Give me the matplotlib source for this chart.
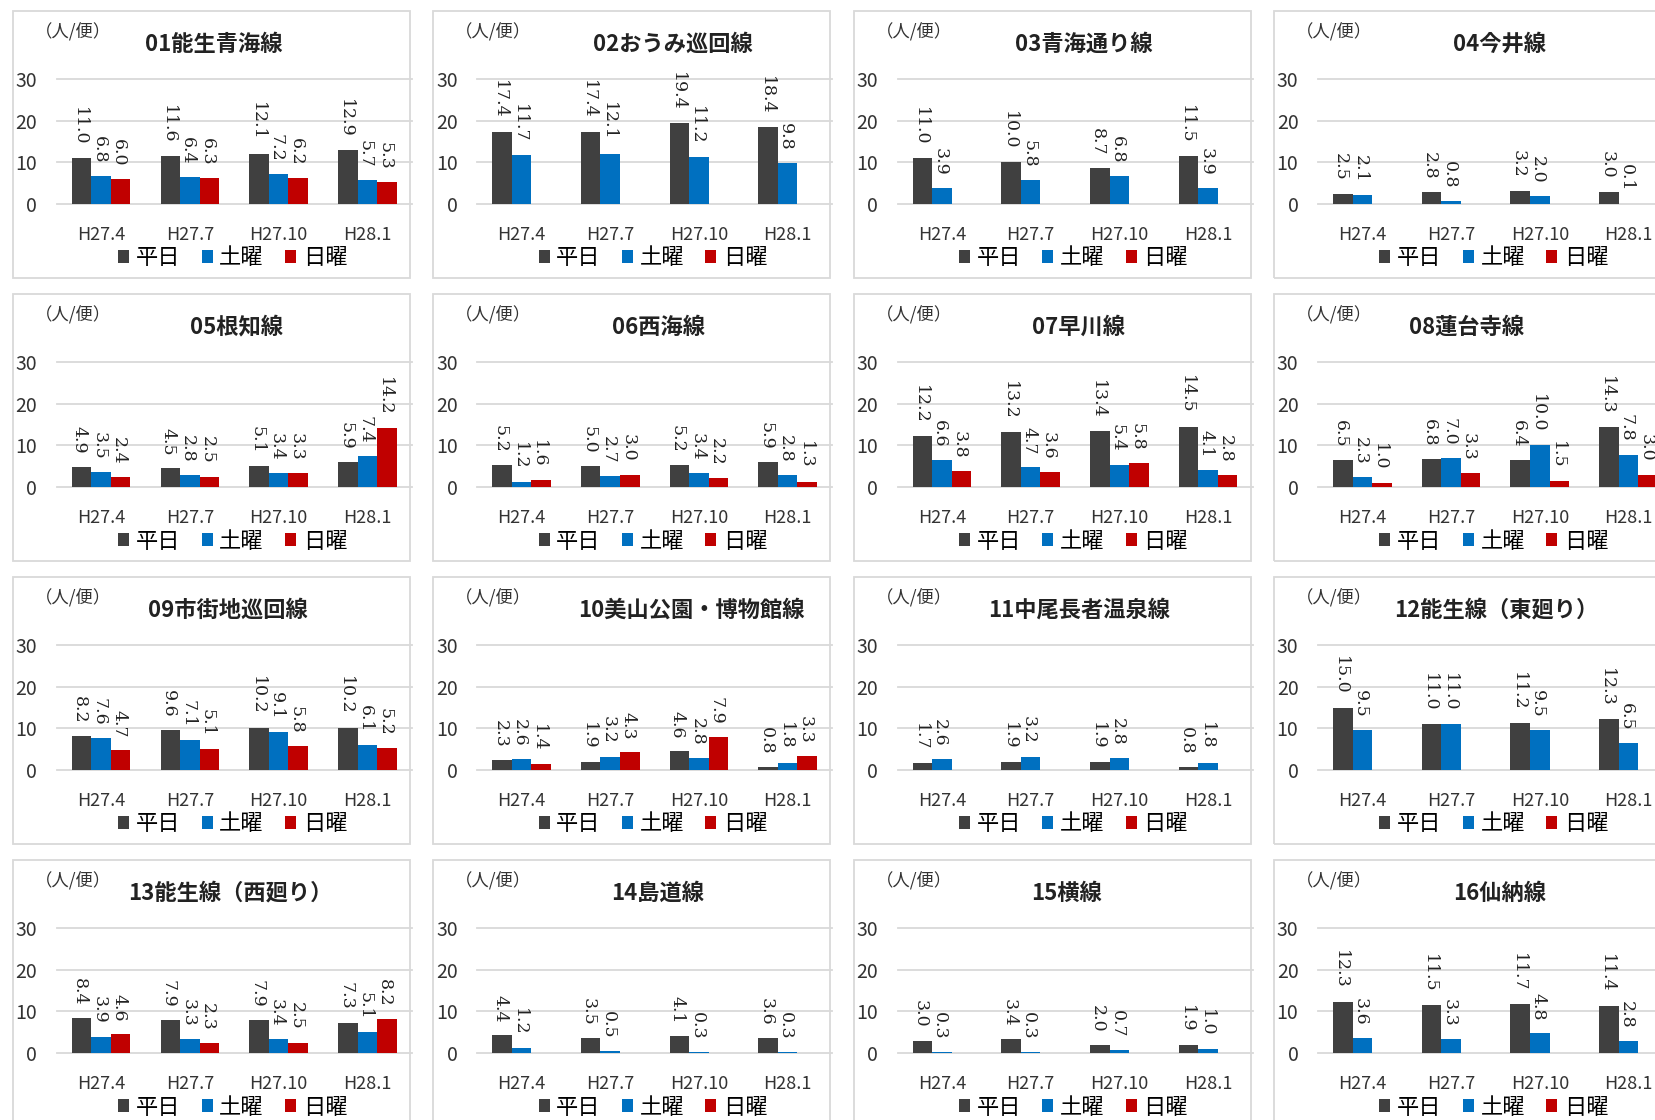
import numpy as np
import matplotlib
matplotlib.use("Agg")
import matplotlib.pyplot as plt
from matplotlib.patches import Rectangle

plt.rcParams['font.family'] = ['Noto Sans CJK JP', 'DejaVu Sans']

routes = ['01能生青海線', '02おうみ巡回線', '03青海通り線', '04今井線',
          '05根知線', '06西海線', '07早川線', '08蓮台寺線',
          '09市街地巡回線', '10美山公園・博物館線', '11中尾長者温泉線', '12能生線（東廻り）',
          '13能生線（西廻り）', '14島道線', '15横線', '16仙納線']
periods = ['H27.4', 'H27.7', 'H27.10', 'H28.1']
day_types = ['平日', '土曜', '日曜']

# 平日
weekday = [
    [11.0, 11.6, 12.1, 12.9], [17.4, 17.4, 19.4, 18.4], [11.0, 10.0, 8.7, 11.5], [2.5, 2.8, 3.2, 3.0],
    [4.9, 4.5, 5.1, 5.9], [5.2, 5.0, 5.2, 5.9], [12.2, 13.2, 13.4, 14.5], [6.5, 6.8, 6.4, 14.3],
    [8.2, 9.6, 10.2, 10.2], [2.3, 1.9, 4.6, 0.8], [1.7, 1.9, 1.9, 0.8], [15.0, 11.0, 11.2, 12.3],
    [8.4, 7.9, 7.9, 7.3], [4.4, 3.5, 4.1, 3.6], [3.0, 3.4, 2.0, 1.9], [12.3, 11.5, 11.7, 11.4],
]
# 土曜
saturday = [
    [6.8, 6.4, 7.2, 5.7], [11.7, 12.1, 11.2, 9.8], [3.9, 5.8, 6.8, 3.9], [2.1, 0.8, 2.0, 0.1],
    [3.5, 2.8, 3.4, 7.4], [1.2, 2.7, 3.4, 2.8], [6.6, 4.7, 5.4, 4.1], [2.3, 7.0, 10.0, 7.8],
    [7.6, 7.1, 9.1, 6.1], [2.6, 3.2, 2.8, 1.8], [2.6, 3.2, 2.8, 1.8], [9.5, 11.0, 9.5, 6.5],
    [3.9, 3.3, 3.4, 5.1], [1.2, 0.5, 0.3, 0.3], [0.3, 0.3, 0.7, 1.0], [3.6, 3.3, 4.8, 2.8],
]
# 日曜 (None = 運行なし)
sunday = [
    [6.0, 6.3, 6.2, 5.3], [None, None, None, None], [None, None, None, None], [None, None, None, None],
    [2.4, 2.5, 3.3, 14.2], [1.6, 3.0, 2.2, 1.3], [3.8, 3.6, 5.8, 2.8], [1.0, 3.3, 1.5, 3.0],
    [4.7, 5.1, 5.8, 5.2], [1.4, 4.3, 7.9, 3.3], [None, None, None, None], [None, None, None, None],
    [4.6, 2.3, 2.5, 8.2], [None, None, None, None], [None, None, None, None], [None, None, None, None],
]

colors = ['#404040', '#0070C0', '#C00000']
# title centre inside each panel (px from panel left), as placed in the original sheet
title_x = [201, 240, 230, 226, 224, 225, 225, 193, 215, 258, 226, 222, 218, 225, 213, 226]

W, H = 1655, 1120
fig = plt.figure(figsize=(W / 100, H / 100), dpi=100)


def fx(x):
    return x / W


def fy(y):
    return 1 - y / H


col_step, row_step = 420.4, 283
x_start, y_start = 12.7, 11
panel_w, panel_h = 397, 267

for i, name in enumerate(routes):
    r, c = divmod(i, 4)
    px = x_start + c * col_step
    py = y_start + r * row_step

    fig.patches.append(Rectangle((fx(px), fy(py + panel_h)), panel_w / W, panel_h / H,
                                 transform=fig.transFigure, fill=False,
                                 edgecolor='#D9D9D9', lw=1.3))

    ax = fig.add_axes([fx(px + 44), fy(py + 193), 355 / W, 125 / H])
    x = np.arange(len(periods))
    width = 0.22
    for k, vals in enumerate([weekday[i], saturday[i], sunday[i]]):
        v = np.array([np.nan if a is None else a for a in vals], dtype=float)
        xs = x + (k - 1) * width
        ax.bar(xs, v, width, color=colors[k], label=day_types[k], zorder=2)
        for xi, yi in zip(xs, v):
            if np.isnan(yi):
                continue
            ax.annotate(f'{yi:.1f}', (xi, yi), xytext=(-1.5, 9), textcoords='offset points',
                        rotation=270, ha='center', va='bottom', fontsize=12.5,
                        family='DejaVu Serif', color='#222222')

    ax.set_xlim(-0.5, 3.5)
    ax.set_ylim(0, 30)
    ax.set_yticks([0, 10, 20, 30])
    ax.set_xticks(x, periods)
    for s in ax.spines.values():
        s.set_visible(False)
    ax.tick_params(length=0, labelsize=13, colors='#333333')
    ax.tick_params(axis='x', pad=16)
    ax.tick_params(axis='y', pad=14, labelsize=14)
    ax.yaxis.grid(True, color='#D9D9D9', lw=1.3)
    for gl in ax.get_ygridlines():
        gl.set_clip_on(False)
    ax.set_axisbelow(True)

    fig.text(fx(px + title_x[i]), fy(py + 33), name, ha='center', va='center',
             fontsize=16, fontweight='bold', color='#222222')
    fig.text(fx(px + 22), fy(py + 21), '（人/便）', ha='left', va='center',
             fontsize=12.5, color='#333333')

    ax.legend(loc='center', bbox_to_anchor=(fx(px + 220), fy(py + 247)),
              bbox_transform=fig.transFigure, ncol=3, frameon=False, fontsize=16,
              handlelength=0.5, handleheight=0.5, handletextpad=0.3,
              columnspacing=0.95, borderpad=0)

fig.savefig('out.png', dpi=100)
